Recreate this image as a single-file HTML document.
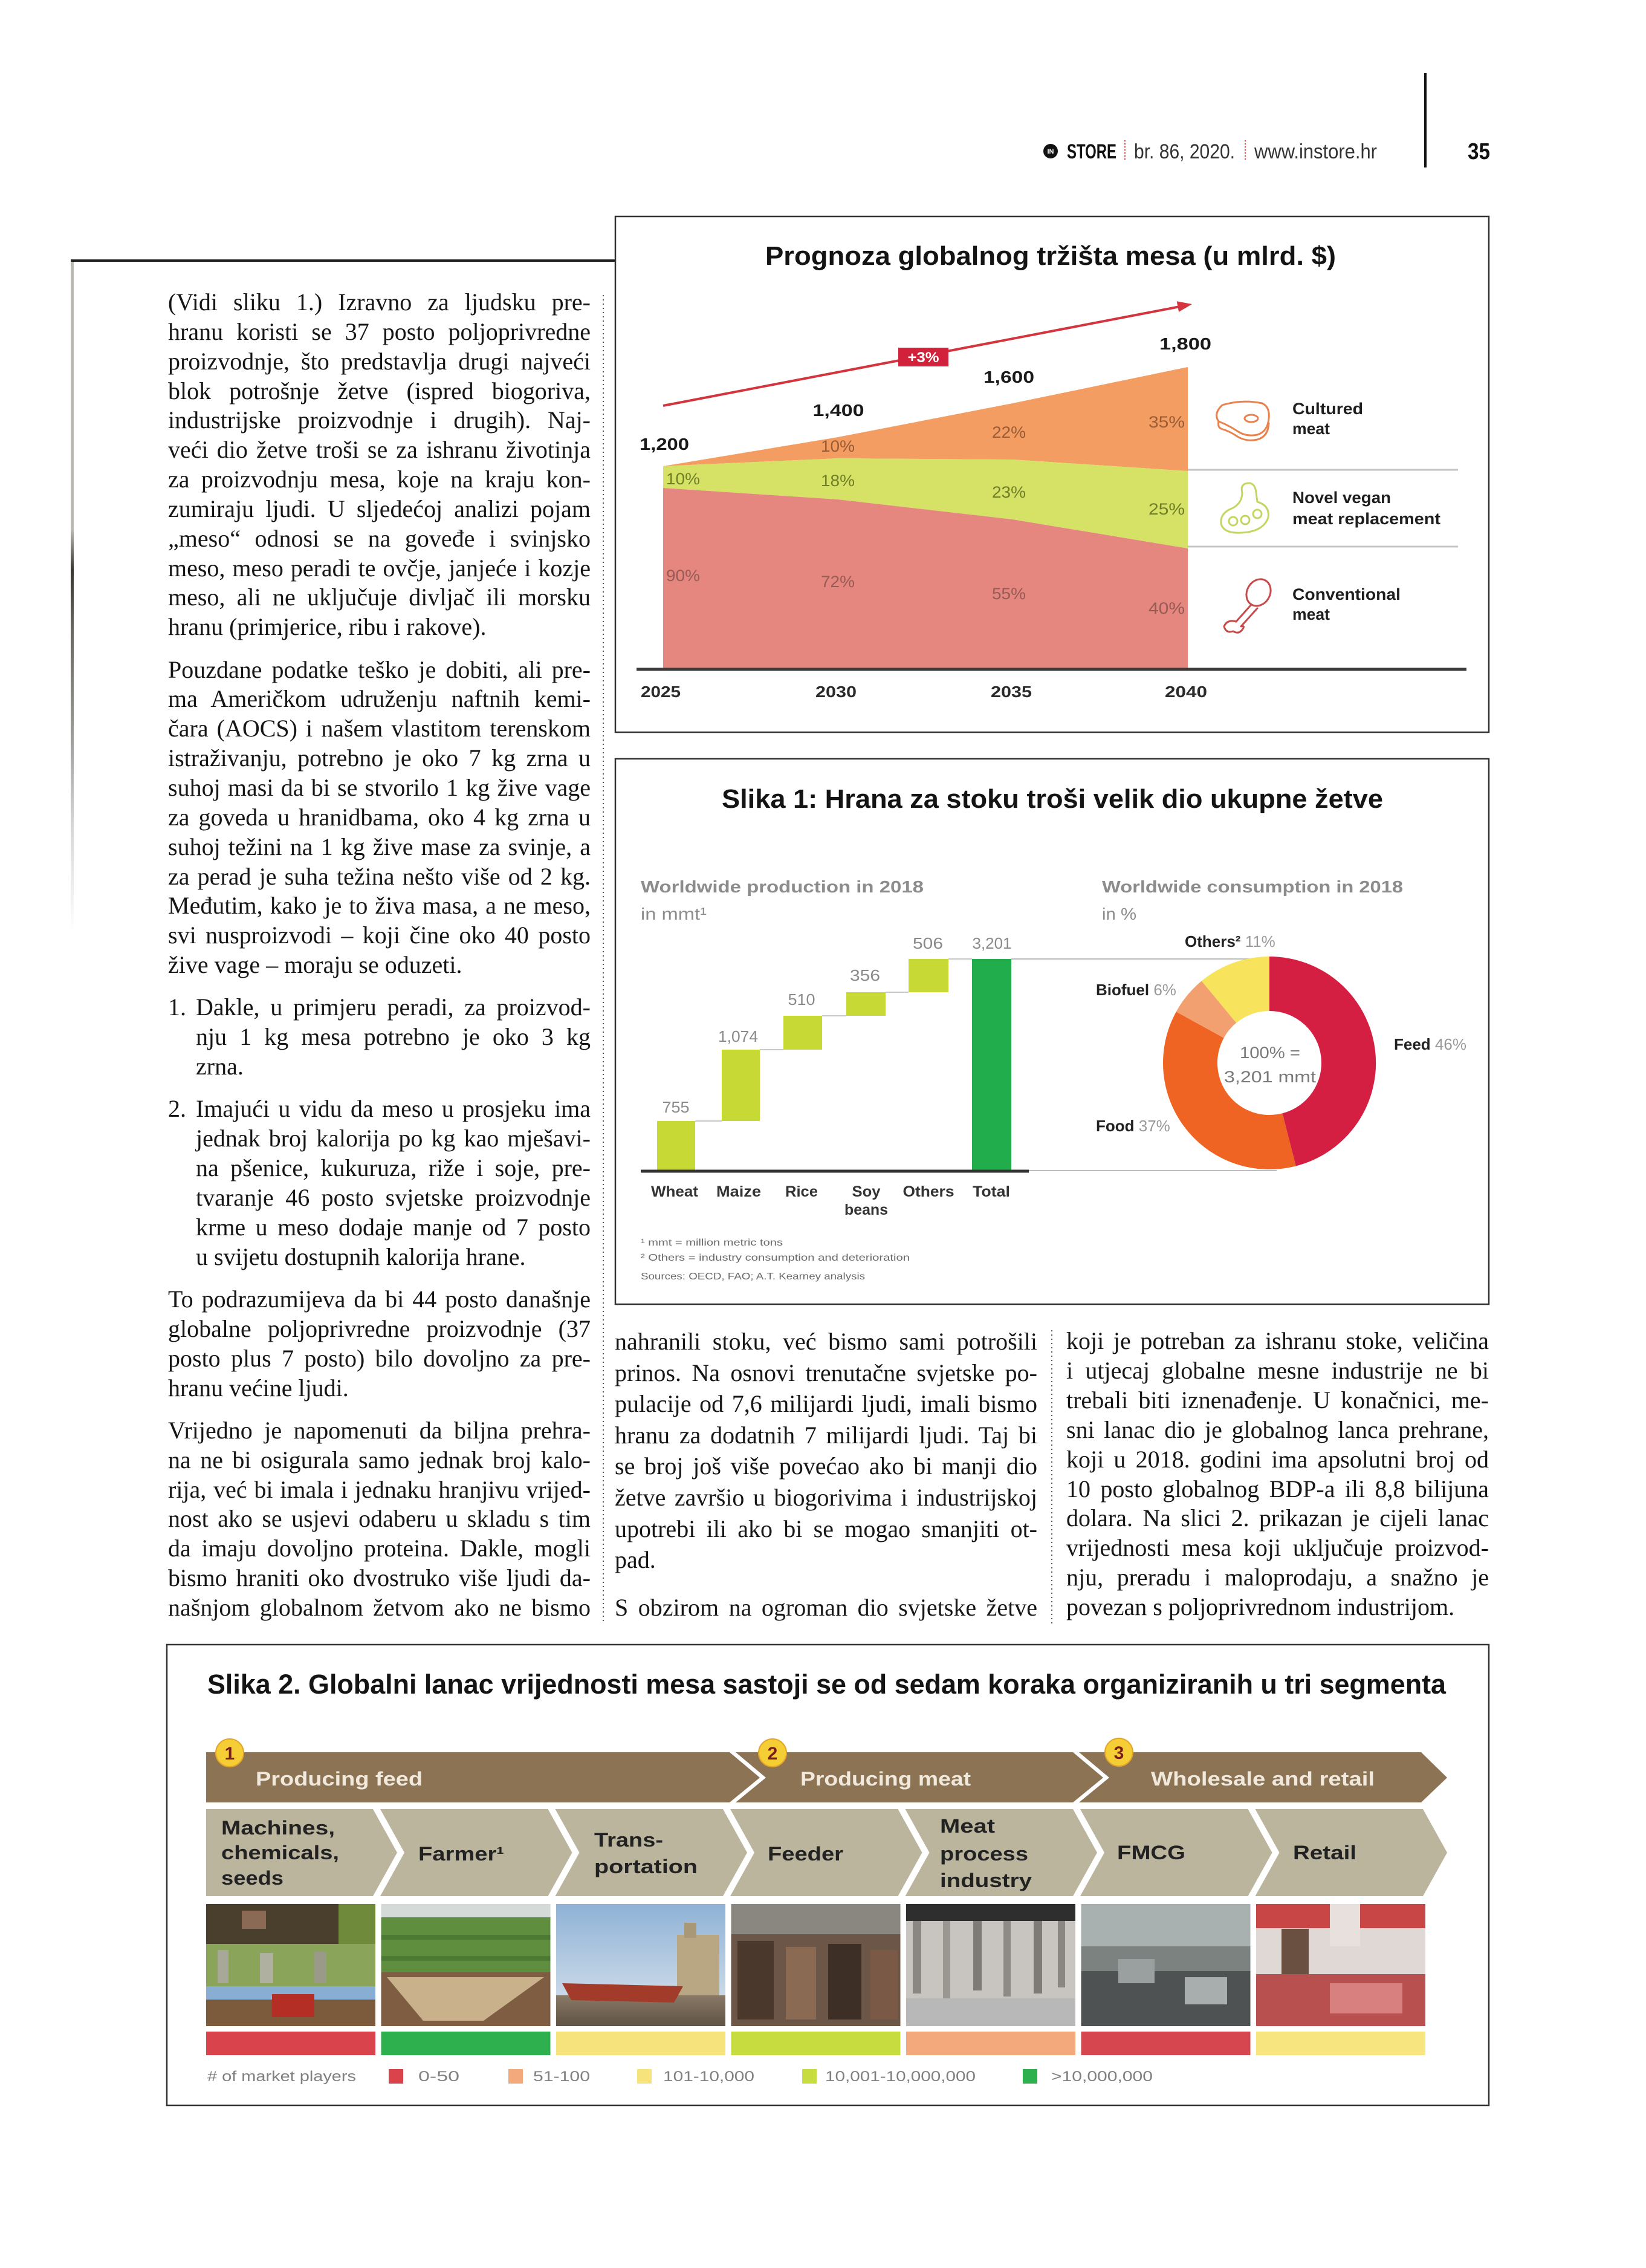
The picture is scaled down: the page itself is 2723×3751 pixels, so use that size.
<!DOCTYPE html>
<html>
<head>
<meta charset="utf-8">
<style>
html,body{margin:0;padding:0;background:#fff;}
body{width:2723px;height:3751px;position:relative;overflow:hidden;}
svg{position:absolute;left:0;top:0;}
.col{position:absolute;width:699px;font-family:"Liberation Serif",serif;font-size:40px;line-height:48.85px;color:#161616;}
.col div{text-align:justify;text-align-last:justify;}
.col div.l{text-align-last:left;}
.g{margin-top:21.5px;}
.li{padding-left:46px;position:relative;}
.li span{position:absolute;left:0;}
</style>
</head>
<body>
<svg width="2723" height="3751" viewBox="0 0 2723 3751" xmlns="http://www.w3.org/2000/svg" font-family="Liberation Sans, sans-serif">
<defs>
<linearGradient id="lg" x1="0" y1="0" x2="0" y2="1">
<stop offset="0" stop-color="#bcb8b2"/><stop offset="0.40" stop-color="#bcb8b2"/><stop offset="0.46" stop-color="#3a3632"/><stop offset="0.55" stop-color="#6a6660"/><stop offset="0.70" stop-color="#9a9894"/><stop offset="0.84" stop-color="#d5d5d5"/><stop offset="1" stop-color="#ffffff"/>
</linearGradient>
<linearGradient id="sky3" x1="0" y1="0" x2="0" y2="1"><stop offset="0" stop-color="#8fb2d6"/><stop offset="1" stop-color="#dde6ee"/></linearGradient>
<linearGradient id="wat3" x1="0" y1="0" x2="0" y2="1"><stop offset="0" stop-color="#8a7a66"/><stop offset="1" stop-color="#5e5244"/></linearGradient>
</defs>

<!-- header -->
<circle cx="1738" cy="250" r="12" fill="#111"/>
<text x="1738" y="254" font-size="11" font-weight="bold" fill="#fff" text-anchor="middle">IN</text>
<text x="1765" y="262" font-size="34" font-weight="bold" fill="#111" textLength="82" lengthAdjust="spacingAndGlyphs">STORE</text>
<line x1="1861" y1="232" x2="1861" y2="266" stroke="#e03a3a" stroke-width="2" stroke-dasharray="2 3"/>
<text x="1876" y="262" font-size="34" fill="#333" textLength="167" lengthAdjust="spacingAndGlyphs">br. 86, 2020.</text>
<line x1="2060" y1="232" x2="2060" y2="266" stroke="#e03a3a" stroke-width="2" stroke-dasharray="2 3"/>
<text x="2075" y="262" font-size="34" fill="#333" textLength="203" lengthAdjust="spacingAndGlyphs">www.instore.hr</text>
<rect x="2356" y="121" width="4" height="156" fill="#111"/>
<text x="2428" y="263" font-size="38" font-weight="bold" fill="#111" textLength="37" lengthAdjust="spacingAndGlyphs">35</text>

<!-- top-left rule and gradient strip -->
<rect x="117" y="429" width="901" height="4" fill="#222"/>
<rect x="117" y="433" width="5" height="1107" fill="url(#lg)"/>

<!-- dotted separators -->
<line x1="998" y1="488" x2="998" y2="2685" stroke="#555" stroke-width="2" stroke-dasharray="2 5"/>
<line x1="1740" y1="2200" x2="1740" y2="2685" stroke="#555" stroke-width="2" stroke-dasharray="2 5"/>

<!-- ============ CHART 1 ============ -->
<rect x="1018" y="358" width="1445" height="853" fill="none" stroke="#333" stroke-width="2.5"/>
<text x="1738" y="438" font-size="44" font-weight="bold" fill="#141414" text-anchor="middle" textLength="944" lengthAdjust="spacingAndGlyphs">Prognoza globalnog tržišta mesa (u mlrd. $)</text>

<polygon points="1097,771 1386,723 1675,667 1965,607 1965,779 1675,760 1386,758 1097,771" fill="#f39d62"/>
<polygon points="1097,771 1386,758 1675,760 1965,779 1965,907 1675,859 1386,826 1097,807" fill="#d6e266"/>
<polygon points="1097,807 1386,826 1675,859 1965,907 1965,1106 1097,1106" fill="#e5877f"/>
<line x1="1053" y1="1107" x2="2426" y2="1107" stroke="#3a3a3a" stroke-width="5"/>

<line x1="1097" y1="671" x2="1952" y2="507" stroke="#d4343e" stroke-width="4"/>
<polygon points="1972,503 1950.1,515.9 1946.7,498.3" fill="#d4343e"/>
<rect x="1486" y="575" width="83" height="31" fill="#d1213b"/>
<text x="1527.5" y="599" font-size="24" font-weight="bold" fill="#fff" text-anchor="middle" textLength="52" lengthAdjust="spacingAndGlyphs">+3%</text>

<g font-size="28" font-weight="bold" fill="#1a1a1a" text-anchor="middle">
<text x="1099" y="744" textLength="82" lengthAdjust="spacingAndGlyphs">1,200</text>
<text x="1387" y="688" textLength="85" lengthAdjust="spacingAndGlyphs">1,400</text>
<text x="1669" y="633" textLength="84" lengthAdjust="spacingAndGlyphs">1,600</text>
<text x="1961" y="578" textLength="86" lengthAdjust="spacingAndGlyphs">1,800</text>
</g>

<g font-size="27">
<text x="1102" y="801" fill="#6f7f28" textLength="56" lengthAdjust="spacingAndGlyphs">10%</text>
<text x="1102" y="961" fill="#985a56" textLength="56" lengthAdjust="spacingAndGlyphs">90%</text>
<text x="1358" y="747" fill="#9a5c35" textLength="56" lengthAdjust="spacingAndGlyphs">10%</text>
<text x="1358" y="804" fill="#6f7f28" textLength="56" lengthAdjust="spacingAndGlyphs">18%</text>
<text x="1358" y="971" fill="#985a56" textLength="56" lengthAdjust="spacingAndGlyphs">72%</text>
<text x="1641" y="724" fill="#9a5c35" textLength="56" lengthAdjust="spacingAndGlyphs">22%</text>
<text x="1641" y="823" fill="#6f7f28" textLength="56" lengthAdjust="spacingAndGlyphs">23%</text>
<text x="1641" y="991" fill="#985a56" textLength="56" lengthAdjust="spacingAndGlyphs">55%</text>
<text x="1900" y="707" fill="#9a5c35" textLength="60" lengthAdjust="spacingAndGlyphs">35%</text>
<text x="1900" y="851" fill="#6f7f28" textLength="60" lengthAdjust="spacingAndGlyphs">25%</text>
<text x="1900" y="1015" fill="#985a56" textLength="60" lengthAdjust="spacingAndGlyphs">40%</text>
</g>

<g font-size="26" font-weight="bold" fill="#2a2a2a" text-anchor="middle">
<text x="1093" y="1153" textLength="66" lengthAdjust="spacingAndGlyphs">2025</text>
<text x="1383" y="1153" textLength="68" lengthAdjust="spacingAndGlyphs">2030</text>
<text x="1673" y="1153" textLength="68" lengthAdjust="spacingAndGlyphs">2035</text>
<text x="1962" y="1153" textLength="70" lengthAdjust="spacingAndGlyphs">2040</text>
</g>

<line x1="1965" y1="777" x2="2412" y2="777" stroke="#c4c4c4" stroke-width="3"/>
<line x1="1965" y1="904" x2="2412" y2="904" stroke="#c4c4c4" stroke-width="3"/>

<g font-size="27" font-weight="bold" fill="#1e1e1e">
<text x="2138" y="685" textLength="117" lengthAdjust="spacingAndGlyphs">Cultured</text>
<text x="2138" y="718" textLength="62" lengthAdjust="spacingAndGlyphs">meat</text>
<text x="2138" y="832" textLength="163" lengthAdjust="spacingAndGlyphs">Novel vegan</text>
<text x="2138" y="867" textLength="245" lengthAdjust="spacingAndGlyphs">meat replacement</text>
<text x="2138" y="992" textLength="179" lengthAdjust="spacingAndGlyphs">Conventional</text>
<text x="2138" y="1025" textLength="62" lengthAdjust="spacingAndGlyphs">meat</text>
</g>

<!-- icons -->
<g fill="none" stroke-width="3" stroke-linejoin="round" stroke-linecap="round">
<path d="M2022 670 Q2055 660 2088 667 Q2101 673 2099 692 Q2097 714 2080 719 Q2062 723 2047 713 Q2032 703 2016 697 Q2007 684 2022 670 Z" stroke="#e8824f"/>
<path d="M2016 697 Q2014 706 2020 709 Q2036 714 2047 722 Q2062 731 2080 727 Q2098 722 2099 700" stroke="#e8824f"/>
<ellipse cx="2070" cy="692" rx="11" ry="6" stroke="#e8824f"/>
<path d="M2060 800 Q2076 795 2078 815 L2080 830 Q2101 836 2098 856 Q2090 879 2055 881 Q2024 883 2020 866 Q2018 848 2040 840 Q2055 831 2055 815 Q2052 803 2060 800 Z" stroke="#c4d662"/>
<circle cx="2040" cy="862" r="7" stroke="#c4d662"/><circle cx="2060" cy="860" r="7" stroke="#c4d662"/><circle cx="2080" cy="850" r="7" stroke="#c4d662"/>
<ellipse cx="2082" cy="980" rx="19" ry="23" transform="rotate(30 2082 980)" stroke="#c64a4a"/>
<path d="M2070 1000 L2045 1028 M2080 1006 L2053 1036 M2045 1028 Q2030 1024 2025 1036 Q2028 1048 2040 1044 Q2050 1050 2056 1040 Q2060 1034 2053 1036" stroke="#c64a4a"/>
</g>

<!-- ============ CHART 2 ============ -->
<rect x="1018" y="1255" width="1445" height="902" fill="none" stroke="#333" stroke-width="2.5"/>
<text x="1741" y="1336" font-size="44" font-weight="bold" fill="#141414" text-anchor="middle" textLength="1094" lengthAdjust="spacingAndGlyphs">Slika 1: Hrana za stoku troši velik dio ukupne žetve</text>

<g fill="#8c8c8c" font-size="28">
<text x="1060" y="1476" font-weight="bold" textLength="468" lengthAdjust="spacingAndGlyphs">Worldwide production in 2018</text>
<text x="1060" y="1521" textLength="109" lengthAdjust="spacingAndGlyphs">in mmt¹</text>
<text x="1823" y="1476" font-weight="bold" textLength="498" lengthAdjust="spacingAndGlyphs">Worldwide consumption in 2018</text>
<text x="1823" y="1521" textLength="57" lengthAdjust="spacingAndGlyphs">in %</text>
</g>

<g stroke="#c8c8c8" stroke-width="2">
<line x1="1150" y1="1854" x2="1194" y2="1854"/>
<line x1="1257" y1="1736" x2="1296" y2="1736"/>
<line x1="1360" y1="1680" x2="1400" y2="1680"/>
<line x1="1465" y1="1641" x2="1503" y2="1641"/>
<line x1="1569" y1="1586" x2="1608" y2="1586"/>
<line x1="1673" y1="1586" x2="2100" y2="1586" stroke="#bdbdbd"/>
<line x1="1702" y1="1936" x2="2112" y2="1936" stroke="#bdbdbd"/>
</g>
<g fill="#c7d934">
<rect x="1087" y="1854" width="63" height="83"/>
<rect x="1194" y="1736" width="63" height="118"/>
<rect x="1296" y="1680" width="64" height="56"/>
<rect x="1400" y="1641" width="65" height="39"/>
<rect x="1503" y="1586" width="66" height="55"/>
</g>
<rect x="1608" y="1586" width="65" height="351" fill="#21ad4b"/>
<line x1="1060" y1="1937" x2="1702" y2="1937" stroke="#333" stroke-width="5"/>

<g fill="#8a8a8a" font-size="26" text-anchor="middle">
<text x="1118" y="1840" textLength="45" lengthAdjust="spacingAndGlyphs">755</text>
<text x="1221" y="1723" textLength="66" lengthAdjust="spacingAndGlyphs">1,074</text>
<text x="1326" y="1662" textLength="45" lengthAdjust="spacingAndGlyphs">510</text>
<text x="1431" y="1622" textLength="50" lengthAdjust="spacingAndGlyphs">356</text>
<text x="1535" y="1569" textLength="50" lengthAdjust="spacingAndGlyphs">506</text>
<text x="1641" y="1569" textLength="65" lengthAdjust="spacingAndGlyphs">3,201</text>
</g>
<g fill="#333" font-size="25" font-weight="bold" text-anchor="middle">
<text x="1116" y="1979" textLength="78" lengthAdjust="spacingAndGlyphs">Wheat</text>
<text x="1222" y="1979" textLength="74" lengthAdjust="spacingAndGlyphs">Maize</text>
<text x="1326" y="1979" textLength="54" lengthAdjust="spacingAndGlyphs">Rice</text>
<text x="1433" y="1979" textLength="47" lengthAdjust="spacingAndGlyphs">Soy</text>
<text x="1433" y="2009" textLength="72" lengthAdjust="spacingAndGlyphs">beans</text>
<text x="1536" y="1979" textLength="85" lengthAdjust="spacingAndGlyphs">Others</text>
<text x="1640" y="1979" textLength="62" lengthAdjust="spacingAndGlyphs">Total</text>
</g>
<g fill="#6a6a6a" font-size="16">
<text x="1060" y="2060" textLength="235" lengthAdjust="spacingAndGlyphs">¹ mmt = million metric tons</text>
<text x="1060" y="2085" textLength="445" lengthAdjust="spacingAndGlyphs">² Others = industry consumption and deterioration</text>
<text x="1060" y="2116" textLength="371" lengthAdjust="spacingAndGlyphs">Sources: OECD, FAO; A.T. Kearney analysis</text>
</g>

<path d="M2100,1582 A176,176 0 0 1 2143.8,1928.5 L2121.4,1841.3 A86,86 0 0 0 2100,1672 Z" fill="#d41f42"/>
<path d="M2143.8,1928.5 A176,176 0 0 1 1945.8,1673.2 L2024.6,1716.6 A86,86 0 0 0 2121.4,1841.3 Z" fill="#ef6422"/>
<path d="M1945.8,1673.2 A176,176 0 0 1 1987.8,1622.4 L2045.2,1691.7 A86,86 0 0 0 2024.6,1716.6 Z" fill="#f3a070"/>
<path d="M1987.8,1622.4 A176,176 0 0 1 2100,1582 L2100,1672 A86,86 0 0 0 2045.2,1691.7 Z" fill="#f8e35d"/>

<g font-size="26">
<text x="1960" y="1566"><tspan font-weight="bold" fill="#222">Others²</tspan><tspan fill="#999"> 11%</tspan></text>
<text x="1813" y="1646"><tspan font-weight="bold" fill="#222">Biofuel</tspan><tspan fill="#999"> 6%</tspan></text>
<text x="2306" y="1736"><tspan font-weight="bold" fill="#222">Feed</tspan><tspan fill="#999"> 46%</tspan></text>
<text x="1813" y="1871"><tspan font-weight="bold" fill="#222">Food</tspan><tspan fill="#999"> 37%</tspan></text>
</g>
<g fill="#7a7a7a" font-size="27" text-anchor="middle">
<text x="2101" y="1750" textLength="100" lengthAdjust="spacingAndGlyphs">100% =</text>
<text x="2101" y="1790" textLength="152" lengthAdjust="spacingAndGlyphs">3,201 mmt</text>
</g>

<!-- ============ SLIKA 2 ============ -->
<rect x="276" y="2720" width="2187" height="762" fill="none" stroke="#333" stroke-width="2.5"/>
<text x="343" y="2801" font-size="45" font-weight="bold" fill="#141414" textLength="2049" lengthAdjust="spacingAndGlyphs">Slika 2. Globalni lanac vrijednosti mesa sastoji se od sedam koraka organiziranih u tri segmenta</text>

<g fill="#8c7354">
<polygon points="341,2898 1207,2898 1257,2940 1207,2981 341,2981"/>
<polygon points="1217,2898 1775,2898 1825,2940 1775,2981 1217,2981 1267,2940"/>
<polygon points="1785,2898 2351,2898 2394,2940 2351,2981 1785,2981 1835,2940"/>
</g>
<g font-size="32" font-weight="bold" fill="#f1e9dc">
<text x="423" y="2953" textLength="276" lengthAdjust="spacingAndGlyphs">Producing feed</text>
<text x="1324" y="2953" textLength="282" lengthAdjust="spacingAndGlyphs">Producing meat</text>
<text x="1904" y="2953" textLength="370" lengthAdjust="spacingAndGlyphs">Wholesale and retail</text>
</g>
<g fill="#f5cd35" stroke="#e2a52a" stroke-width="2">
<circle cx="380" cy="2899" r="23"/>
<circle cx="1278" cy="2899" r="23"/>
<circle cx="1851" cy="2898" r="23"/>
</g>
<g font-size="30" font-weight="bold" fill="#7b1d1d" text-anchor="middle">
<text x="380" y="2910">1</text>
<text x="1278" y="2910">2</text>
<text x="1851" y="2909">3</text>
</g>

<g fill="#bbb59d">
<polygon points="341,2992 617,2992 657,3064 617,3136 341,3136"/>
<polygon points="629,2992 906.5,2992 946.5,3064 906.5,3136 629,3136 669,3064"/>
<polygon points="918.5,2992 1196,2992 1236,3064 1196,3136 918.5,3136 958.5,3064"/>
<polygon points="1208,2992 1485.5,2992 1525.5,3064 1485.5,3136 1208,3136 1248,3064"/>
<polygon points="1497.5,2992 1775,2992 1815,3064 1775,3136 1497.5,3136 1537.5,3064"/>
<polygon points="1787,2992 2064.5,2992 2104.5,3064 2064.5,3136 1787,3136 1827,3064"/>
<polygon points="2076.5,2992 2354,2992 2394,3064 2354,3136 2076.5,3136 2116.5,3064"/>
</g>
<g font-size="32" font-weight="bold" fill="#222">
<text x="366" y="3034" textLength="188" lengthAdjust="spacingAndGlyphs">Machines,</text>
<text x="366" y="3075" textLength="195" lengthAdjust="spacingAndGlyphs">chemicals,</text>
<text x="366" y="3117" textLength="103" lengthAdjust="spacingAndGlyphs">seeds</text>
<text x="692" y="3077" textLength="142" lengthAdjust="spacingAndGlyphs">Farmer¹</text>
<text x="983" y="3054" textLength="114" lengthAdjust="spacingAndGlyphs">Trans-</text>
<text x="983" y="3098" textLength="171" lengthAdjust="spacingAndGlyphs">portation</text>
<text x="1270" y="3077" textLength="125" lengthAdjust="spacingAndGlyphs">Feeder</text>
<text x="1555" y="3031" textLength="91" lengthAdjust="spacingAndGlyphs">Meat</text>
<text x="1555" y="3077" textLength="146" lengthAdjust="spacingAndGlyphs">process</text>
<text x="1555" y="3121" textLength="152" lengthAdjust="spacingAndGlyphs">industry</text>
<text x="1848" y="3075" textLength="113" lengthAdjust="spacingAndGlyphs">FMCG</text>
<text x="2139" y="3075" textLength="105" lengthAdjust="spacingAndGlyphs">Retail</text>
</g>

<!-- photos -->
<g>
<!-- 1 -->
<rect x="341" y="3149" width="280" height="202" fill="#6b6a48"/>
<rect x="341" y="3149" width="280" height="66" fill="#4a3f2c"/>
<rect x="560" y="3149" width="61" height="66" fill="#6f8a3a"/>
<rect x="400" y="3160" width="40" height="30" fill="#8a6a55"/>
<rect x="341" y="3215" width="280" height="70" fill="#8aa55a"/>
<rect x="360" y="3225" width="18" height="55" fill="#a8a898"/><rect x="430" y="3230" width="22" height="50" fill="#b0b0a0"/><rect x="520" y="3228" width="20" height="52" fill="#9a9a88"/>
<rect x="341" y="3285" width="280" height="22" fill="#88aed4"/>
<rect x="341" y="3307" width="280" height="44" fill="#7c5a3c"/>
<rect x="450" y="3298" width="70" height="38" fill="#b52e25"/>
<!-- 2 -->
<rect x="630.5" y="3149" width="280" height="202" fill="#7e5d43"/>
<rect x="630.5" y="3149" width="280" height="22" fill="#d4dad8"/>
<rect x="630.5" y="3171" width="280" height="91" fill="#5f8f3e"/>
<rect x="630.5" y="3200" width="280" height="8" fill="#4d7a32"/><rect x="630.5" y="3235" width="280" height="8" fill="#4d7a32"/>
<polygon points="640,3270 900,3270 800,3342 700,3342" fill="#c9b18c"/>
<!-- 3 -->
<rect x="920" y="3149" width="280" height="202" fill="url(#sky3)"/>
<rect x="1120" y="3200" width="70" height="100" fill="#b9a784"/>
<rect x="1132" y="3180" width="20" height="25" fill="#a89878"/>
<rect x="920" y="3300" width="280" height="51" fill="url(#wat3)"/>
<polygon points="930,3280 1130,3285 1115,3312 945,3308" fill="#a33b2b"/>
<!-- 4 -->
<rect x="1209.5" y="3149" width="280" height="202" fill="#6b5647"/>
<rect x="1209.5" y="3149" width="280" height="50" fill="#8a8680"/>
<rect x="1220" y="3210" width="60" height="130" fill="#4a382c"/><rect x="1300" y="3220" width="50" height="120" fill="#8a6a52"/><rect x="1370" y="3215" width="55" height="125" fill="#3e2f26"/><rect x="1440" y="3225" width="45" height="115" fill="#7a5a46"/>
<!-- 5 -->
<rect x="1499" y="3149" width="280" height="202" fill="#c8c4c0"/>
<rect x="1499" y="3149" width="280" height="28" fill="#2e2e2e"/>
<rect x="1510" y="3177" width="14" height="120" fill="#8a8682"/><rect x="1560" y="3177" width="12" height="130" fill="#9a9690"/><rect x="1610" y="3177" width="14" height="115" fill="#7e7a76"/><rect x="1660" y="3177" width="12" height="125" fill="#8e8a86"/><rect x="1710" y="3177" width="14" height="120" fill="#7e7a76"/><rect x="1750" y="3177" width="12" height="110" fill="#8a8682"/>
<rect x="1499" y="3305" width="280" height="46" fill="#b8b8b8"/>
<!-- 6 -->
<rect x="1788.5" y="3149" width="280" height="202" fill="#7b8280"/>
<rect x="1788.5" y="3149" width="280" height="70" fill="#a8b0b0"/>
<rect x="1788.5" y="3260" width="280" height="91" fill="#4e5252"/>
<rect x="1850" y="3240" width="60" height="40" fill="#9aa0a0"/><rect x="1960" y="3270" width="70" height="45" fill="#a8aeae"/>
<!-- 7 -->
<rect x="2078" y="3149" width="280" height="202" fill="#e0d8d4"/>
<rect x="2078" y="3149" width="280" height="40" fill="#c84646"/>
<rect x="2200" y="3149" width="50" height="70" fill="#e8e0dc"/>
<rect x="2120" y="3190" width="45" height="100" fill="#6a5040"/>
<rect x="2078" y="3265" width="280" height="86" fill="#b85050"/>
<rect x="2200" y="3280" width="120" height="50" fill="#d88080"/>
</g>

<g>
<rect x="341" y="3360" width="280" height="39" fill="#d9434c"/>
<rect x="630.5" y="3360" width="280" height="39" fill="#2fb04e"/>
<rect x="920" y="3360" width="280" height="39" fill="#f7e37c"/>
<rect x="1209.5" y="3360" width="280" height="39" fill="#c6dc3f"/>
<rect x="1499" y="3360" width="280" height="39" fill="#f4a97d"/>
<rect x="1788.5" y="3360" width="280" height="39" fill="#d6464e"/>
<rect x="2078" y="3360" width="280" height="39" fill="#f7e57f"/>
</g>

<g font-size="24" fill="#808080">
<text x="343" y="3442" textLength="246" lengthAdjust="spacingAndGlyphs"># of market players</text>
<rect x="643" y="3422" width="24" height="24" fill="#d9434c"/>
<text x="692" y="3442" textLength="68" lengthAdjust="spacingAndGlyphs">0-50</text>
<rect x="841" y="3422" width="24" height="24" fill="#f4a97d"/>
<text x="882" y="3442" textLength="94" lengthAdjust="spacingAndGlyphs">51-100</text>
<rect x="1054" y="3422" width="24" height="24" fill="#f7e37c"/>
<text x="1097" y="3442" textLength="151" lengthAdjust="spacingAndGlyphs">101-10,000</text>
<rect x="1327" y="3422" width="24" height="24" fill="#c6dc3f"/>
<text x="1365" y="3442" textLength="249" lengthAdjust="spacingAndGlyphs">10,001-10,000,000</text>
<rect x="1692" y="3422" width="24" height="24" fill="#2fb04e"/>
<text x="1739" y="3442" textLength="168" lengthAdjust="spacingAndGlyphs">&gt;10,000,000</text>
</g>
</svg>

<!-- LEFT COLUMN -->
<div class="col" style="left:278px;top:476px;">
<div>(Vidi sliku 1.) Izravno za ljudsku pre-</div>
<div>hranu koristi se 37 posto poljoprivredne</div>
<div>proizvodnje, što predstavlja drugi najveći</div>
<div>blok potrošnje žetve (ispred biogoriva,</div>
<div>industrijske proizvodnje i drugih). Naj-</div>
<div>veći dio žetve troši se za ishranu životinja</div>
<div>za proizvodnju mesa, koje na kraju kon-</div>
<div>zumiraju ljudi. U sljedećoj analizi pojam</div>
<div>„meso“ odnosi se na goveđe i svinjsko</div>
<div>meso, meso peradi te ovčje, janjeće i kozje</div>
<div>meso, ali ne uključuje divljač ili morsku</div>
<div class="l">hranu (primjerice, ribu i rakove).</div>
<div class="g">Pouzdane podatke teško je dobiti, ali pre-</div>
<div>ma Američkom udruženju naftnih kemi-</div>
<div>čara (AOCS) i našem vlastitom terenskom</div>
<div>istraživanju, potrebno je oko 7 kg zrna u</div>
<div>suhoj masi da bi se stvorilo 1 kg žive vage</div>
<div>za goveda u hranidbama, oko 4 kg zrna u</div>
<div>suhoj težini na 1 kg žive mase za svinje, a</div>
<div>za perad je suha težina nešto više od 2 kg.</div>
<div>Međutim, kako je to živa masa, a ne meso,</div>
<div>svi nusproizvodi – koji čine oko 40 posto</div>
<div class="l">žive vage – moraju se oduzeti.</div>
<div class="g li"><span>1.</span>Dakle, u primjeru peradi, za proizvod-</div>
<div class="li">nju 1 kg mesa potrebno je oko 3 kg</div>
<div class="li l">zrna.</div>
<div class="g li"><span>2.</span>Imajući u vidu da meso u prosjeku ima</div>
<div class="li">jednak broj kalorija po kg kao mješavi-</div>
<div class="li">na pšenice, kukuruza, riže i soje, pre-</div>
<div class="li">tvaranje 46 posto svjetske proizvodnje</div>
<div class="li">krme u meso dodaje manje od 7 posto</div>
<div class="li l">u svijetu dostupnih kalorija hrane.</div>
<div class="g">To podrazumijeva da bi 44 posto današnje</div>
<div>globalne poljoprivredne proizvodnje (37</div>
<div>posto plus 7 posto) bilo dovoljno za pre-</div>
<div class="l">hranu većine ljudi.</div>
<div class="g">Vrijedno je napomenuti da biljna prehra-</div>
<div>na ne bi osigurala samo jednak broj kalo-</div>
<div>rija, već bi imala i jednaku hranjivu vrijed-</div>
<div>nost ako se usjevi odaberu u skladu s tim</div>
<div>da imaju dovoljno proteina. Dakle, mogli</div>
<div>bismo hraniti oko dvostruko više ljudi da-</div>
<div>našnjom globalnom žetvom ako ne bismo</div>
</div>

<!-- MIDDLE COLUMN -->
<div class="col" style="left:1017px;top:2193px;line-height:51.6px;">
<div>nahranili stoku, već bismo sami potrošili</div>
<div>prinos. Na osnovi trenutačne svjetske po-</div>
<div>pulacije od 7,6 milijardi ljudi, imali bismo</div>
<div>hranu za dodatnih 7 milijardi ljudi. Taj bi</div>
<div>se broj još više povećao ako bi manji dio</div>
<div>žetve završio u biogorivima i industrijskoj</div>
<div>upotrebi ili ako bi se mogao smanjiti ot-</div>
<div class="l">pad.</div>
<div style="margin-top:27px;">S obzirom na ogroman dio svjetske žetve</div>
</div>

<!-- RIGHT COLUMN -->
<div class="col" style="left:1764px;top:2194px;line-height:48.9px;">
<div>koji je potreban za ishranu stoke, veličina</div>
<div>i utjecaj globalne mesne industrije ne bi</div>
<div>trebali biti iznenađenje. U konačnici, me-</div>
<div>sni lanac dio je globalnog lanca prehrane,</div>
<div>koji u 2018. godini ima apsolutni broj od</div>
<div>10 posto globalnog BDP-a ili 8,8 bilijuna</div>
<div>dolara. Na slici 2. prikazan je cijeli lanac</div>
<div>vrijednosti mesa koji uključuje proizvod-</div>
<div>nju, preradu i maloprodaju, a snažno je</div>
<div class="l">povezan s poljoprivrednom industrijom.</div>
</div>
</body>
</html>
